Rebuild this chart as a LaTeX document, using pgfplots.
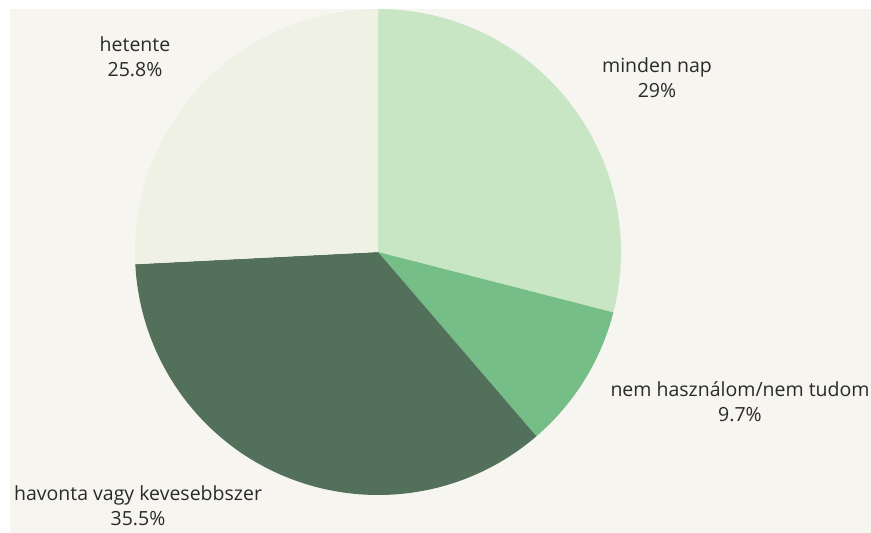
\documentclass[border=0pt]{standalone}
\usepackage{pgfplots}
\usepackage{pgfplotstable}
\pgfplotsset{compat=1.18}
\usepackage{fontspec}
\setmainfont{Open Sans}

\definecolor{bgpaper}{HTML}{F7F5F0}
\definecolor{cA}{HTML}{C8E6C4}
\definecolor{cB}{HTML}{75BE87}
\definecolor{cC}{HTML}{52705A}
\definecolor{cD}{HTML}{EEF1E4}
\definecolor{txt}{HTML}{2A2A2A}

% share of answers, clockwise from 12 o'clock
\pgfplotstableread[col sep=comma]{
name,pct
minden nap,29
nem használom/nem tudom,9.7
havonta vagy kevesebbszer,35.5
hetente,25.8
}\piedata

\begin{document}
\begin{tikzpicture}
\path[use as bounding box] (0,0) rectangle (871pt,533pt);
\pgfplotstablegetelem{0}{pct}\of\piedata \let\pA\pgfplotsretval
\pgfplotstablegetelem{1}{pct}\of\piedata \let\pB\pgfplotsretval
\pgfplotstablegetelem{2}{pct}\of\piedata \let\pC\pgfplotsretval
\pgfplotstablegetelem{3}{pct}\of\piedata \let\pD\pgfplotsretval
\pgfmathsetmacro\aA{90-3.6*\pA}
\pgfmathsetmacro\aB{\aA-3.6*\pB}
\pgfmathsetmacro\aC{\aB-3.6*\pC}
\pgfmathsetmacro\aD{\aC-3.6*\pD}
\def\R{243pt}
\begin{axis}[
  x=1pt, y=1pt,
  xmin=-378, xmax=493, ymin=-281, ymax=252,
  at={(0,0)}, anchor=south west,
  hide axis, clip=false,
]
\fill[white] (axis cs:-378,-281) rectangle (axis cs:493,252);
\fill[bgpaper] (axis cs:-368,-281) rectangle (axis cs:493,243);
\fill[cA] (axis cs:0,0) -- ++(90:\R) arc[start angle=90, end angle=\aA, radius=\R] -- cycle;
\fill[cB] (axis cs:0,0) -- ++(\aA:\R) arc[start angle=\aA, end angle=\aB, radius=\R] -- cycle;
\fill[cC] (axis cs:0,0) -- ++(\aB:\R) arc[start angle=\aB, end angle=\aC, radius=\R] -- cycle;
\fill[cD] (axis cs:0,0) -- ++(\aC:\R) arc[start angle=\aC, end angle=\aD, radius=\R] -- cycle;
\begin{scope}[every node/.style={align=center, text=txt, font=\fontsize{19.5}{25}\selectfont}]
\node at (axis cs:279,174) {minden nap\\29\%};
\node at (axis cs:362,-150) {nem használom/nem tudom\\9.7\%};
\node at (axis cs:-240,-254) {havonta vagy kevesebbszer\\35.5\%};
\node at (axis cs:-243,195) {hetente\\25.8\%};
\end{scope}
\end{axis}
\end{tikzpicture}
\end{document}
